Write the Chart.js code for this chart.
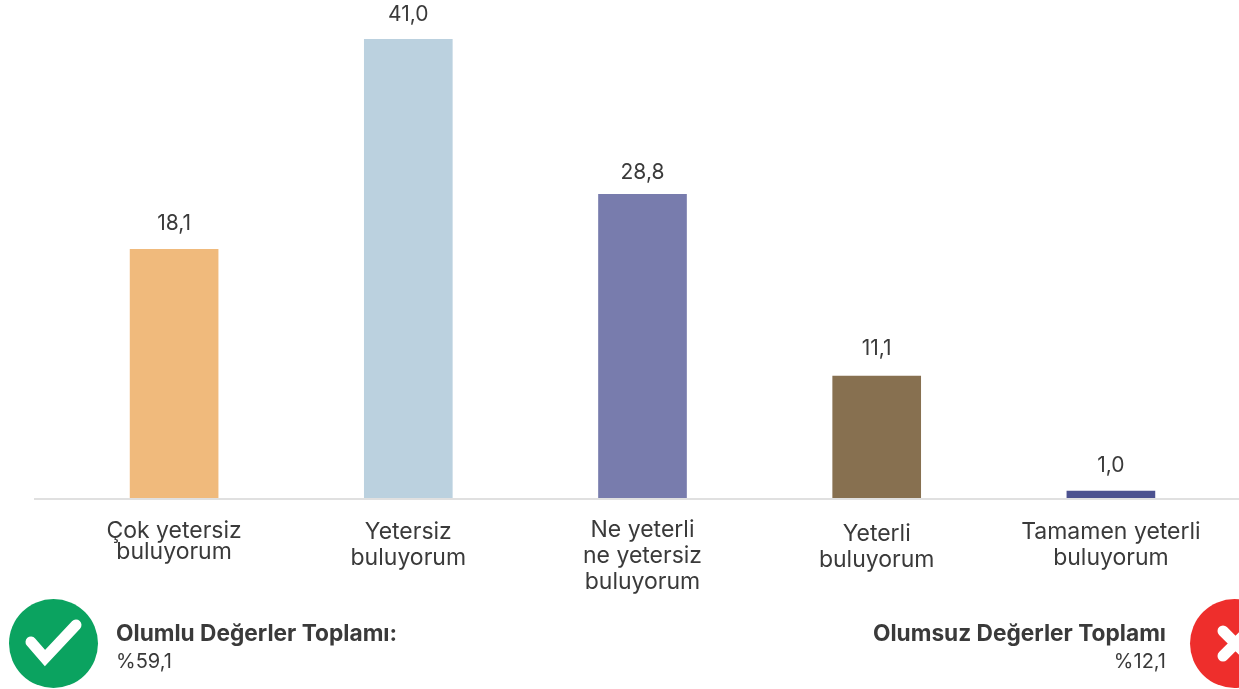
<!DOCTYPE html>
<html lang="tr">
<head>
  <meta charset="UTF-8" />
  <title>Yeterlilik Grafiği</title>
  <script src="https://cdn.jsdelivr.net/npm/chart.js"></script>
  <style>
    html, body { margin: 0; padding: 0; background: #fff; overflow: hidden; }
    #wrap { position: relative; width: 1239px; height: 689px; overflow: hidden; font-family: Inter, sans-serif; color: #3a3a3a; }
    canvas { position: absolute; left: 0; top: 0; }
    .note { position: absolute; font-size: 20px; line-height: 27px; white-space: nowrap; }
    .note b { font-weight: 700; font-size: 22.7px; }
    .icon { position: absolute; left: 0; top: 0; }
  </style>
</head>
<body>
  <div id="wrap">
    <canvas id="chart" width="1239" height="689"></canvas>
    <svg class="icon" width="1239" height="689">
      <circle cx="53.5" cy="643.5" r="44.5" fill="#0ba360" />
      <polyline points="31,642 45,658 76,625" fill="none" stroke="#fff" stroke-width="11" stroke-linecap="round" stroke-linejoin="miter" />
      <circle cx="1234.5" cy="643.5" r="44.5" fill="#ee2e2c" />
      <path d="M1223 631 L1248 656 M1223 656 L1248 631" fill="none" stroke="#fff" stroke-width="11" stroke-linecap="round" />
    </svg>
    <div class="note" style="left:116px;top:619px"><b>Olumlu Değerler Toplamı:</b><br>%59,1</div>
    <div class="note" style="right:73px;top:619px;text-align:right"><b>Olumsuz Değerler Toplamı</b><br>%12,1</div>
  </div>

  <script>
    const categories = [
      ['Çok yetersiz', 'buluyorum'],
      ['Yetersiz', 'buluyorum'],
      ['Ne yeterli', 'ne yetersiz', 'buluyorum'],
      ['Yeterli', 'buluyorum'],
      ['Tamamen yeterli', 'buluyorum']
    ];
    // printed values
    const valueLabels = ['18,1', '41,0', '28,8', '11,1', '1,0'];
    // bar heights as drawn in the picture (not quite proportional to the printed values)
    const barHeights = [22.25, 41, 27.15, 10.95, 0.7];
    const barColors = ['#f0ba7c', '#bbd1df', '#787cad', '#877050', '#4c5290'];
    // gap between bar top and the middle of its printed value
    const labelGaps = [26, 24, 22, 27, 25];
    // first label is set tighter than the others, and each sits a little differently
    const tickLineHeights = [21, 26, 26, 26, 26];
    const tickShift = [2, 0, -2, 2, 0];
    const yMax = 41;

    const labelsAndBaseline = {
      id: 'labelsAndBaseline',
      afterLayout(chart) {
        chart.scales.x.getLabelItems().forEach((item, i) => {
          item.options.translation[1] += tickShift[i];
        });
      },
      afterDatasetsDraw(chart) {
        const ctx = chart.ctx;
        const y = chart.scales.y.getPixelForValue(0);
        ctx.save();
        ctx.strokeStyle = '#e0e0e0';
        ctx.lineWidth = 2;
        ctx.beginPath();
        ctx.moveTo(34, y);
        ctx.lineTo(1239, y);
        ctx.stroke();

        ctx.font = '21px Inter, sans-serif';
        ctx.fillStyle = '#3a3a3a';
        ctx.textAlign = 'center';
        ctx.textBaseline = 'middle';
        chart.getDatasetMeta(0).data.forEach((bar, i) => {
          ctx.fillText(valueLabels[i], bar.x, bar.y - labelGaps[i]);
        });
        ctx.restore();
      }
    };

    new Chart(document.getElementById('chart'), {
      type: 'bar',
      data: {
        labels: categories,
        datasets: [{
          data: barHeights,
          backgroundColor: barColors,
          barThickness: 88
        }]
      },
      options: {
        responsive: false,
        animation: false,
        layout: { padding: { left: 57, right: 11, top: 39, bottom: 0 } },
        plugins: { legend: { display: false }, tooltip: { enabled: false } },
        scales: {
          x: {
            grid: { display: false, drawTicks: false },
            border: { display: false },
            afterFit(scale) { scale.height = 190; },
            ticks: {
              padding: 20,
              maxRotation: 0,
              autoSkip: false,
              color: '#3a3a3a',
              font: ctx => ({ family: 'Inter, sans-serif', size: 23, lineHeight: tickLineHeights[ctx.index] + 'px' })
            }
          },
          y: { display: false, min: 0, max: yMax }
        }
      },
      plugins: [labelsAndBaseline]
    });
  </script>
</body>
</html>
